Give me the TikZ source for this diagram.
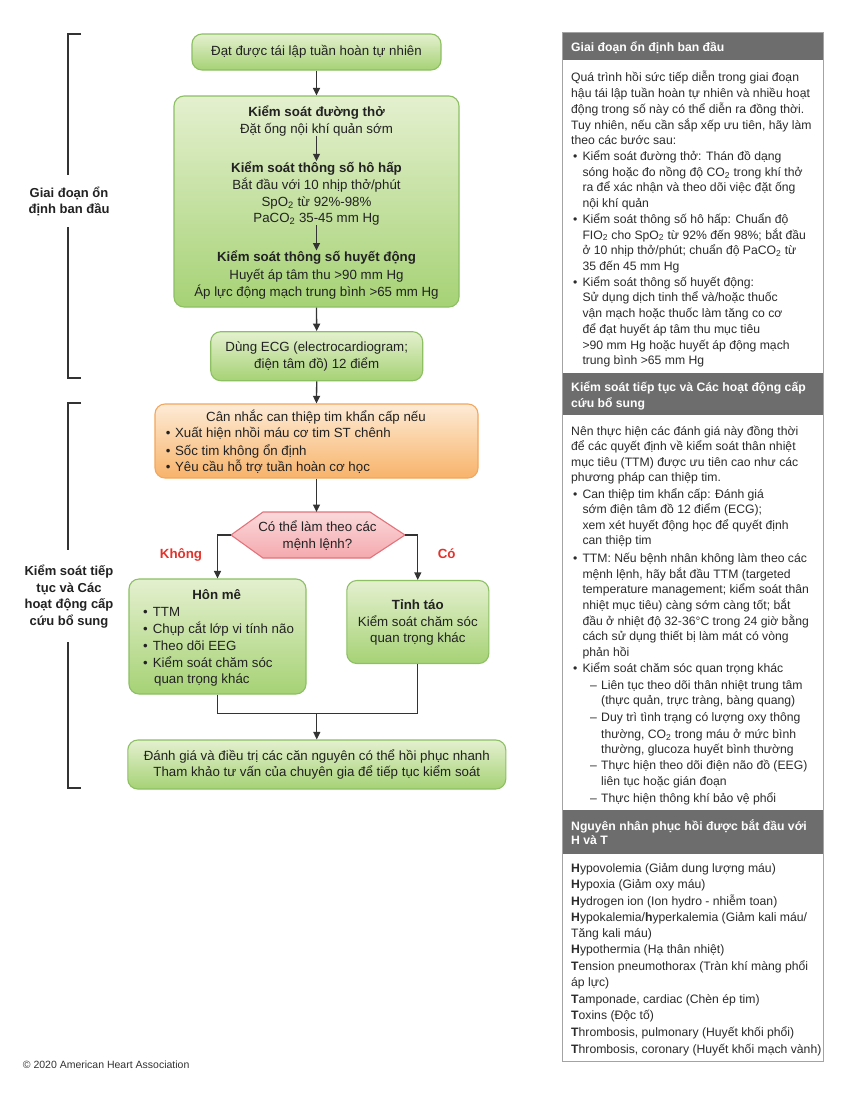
\documentclass[tikz,border=0pt]{standalone}
\usepackage{fontspec}
\setmainfont{Liberation Sans}
\usetikzlibrary{arrows.meta}
\definecolor{gline}{HTML}{8CC063}
\definecolor{gtop}{HTML}{E4F0CF}
\definecolor{gbot}{HTML}{A6D275}
\definecolor{otop}{HTML}{FDEBD6}
\definecolor{obot}{HTML}{F8B36A}
\definecolor{oline}{HTML}{F3A75C}
\definecolor{ptop}{HTML}{FBD9DB}
\definecolor{pbot}{HTML}{F4A9AE}
\definecolor{pline}{HTML}{E4727A}
\definecolor{redtxt}{HTML}{E4322B}
\definecolor{hdr}{HTML}{6D6D6D}
\definecolor{frm}{HTML}{A3A3A3}
\definecolor{txt}{HTML}{222222}
\definecolor{ink}{HTML}{333333}
\definecolor{rtxt}{HTML}{2B2B2B}
\newcommand{\fcfont}{\fontsize{13.3}{16.8}\selectfont}
\newcommand{\rpfont}{\fontsize{12.2}{15.7}\selectfont}
\newcommand{\rbul}{\makebox[11.3pt][l]{\hspace{2pt}•}}
\newcommand{\rind}{\hspace*{11.3pt}}
\newcommand{\rdsh}{\hspace*{19pt}\makebox[11pt][l]{–}}
\newcommand{\rdin}{\hspace*{30pt}}
\begin{document}
\begin{tikzpicture}[x=1pt,y=-1pt,
  gbox/.style={draw=gline, line width=1.1pt, rounded corners=10pt, top color=gtop, bottom color=gbot, text=txt, font=\fcfont, align=center, inner sep=0pt},
  obox/.style={gbox, draw=oline, top color=otop, bottom color=obot},
  ftxt/.style={text=txt, font=\fcfont, inner sep=0pt, anchor=base},
  fbtxt/.style={ftxt, font=\bfseries\fcfont},
  fltxt/.style={ftxt, anchor=base west},
  arr/.style={draw=ink, line width=1.3pt, -{Triangle[length=7.5pt,width=7pt]}},
  ln/.style={draw=ink, line width=1.3pt},
  brk/.style={draw=ink, line width=1.4pt},
  side/.style={text=txt, font=\bfseries\fontsize{13}{16.7}\selectfont, align=center, inner sep=0pt},
  rtx/.style={text=rtxt, font=\rpfont, inner sep=0pt, anchor=base west},
  htx/.style={text=white, font=\bfseries\rpfont, inner sep=0pt, anchor=base west},
]
\useasboundingbox (0,0) rectangle (847,1093);
\fill[white] (0,0) rectangle (847,1093);

% ---------- left brackets ----------
\node[side] (lab1) at (69,201.5) {Giai đoạn ổn\\định ban đầu};
\node[side] (lab2) at (69,596.7) {Kiểm soát tiếp\\tục và Các\\hoạt động cấp\\cứu bổ sung};
\draw[brk] (81,34) -- (68,34) -- (68,175);
\draw[brk] (68,227) -- (68,378) -- (81,378);
\draw[brk] (81,403) -- (68,403) -- (68,550);
\draw[brk] (68,642) -- (68,788) -- (81,788);

% ---------- flowchart ----------
\node[gbox, minimum width=249pt, minimum height=36pt] (rosc) at (316.5,52) {Đạt được tái lập tuần hoàn tự nhiên};

\node[gbox, minimum width=285pt, minimum height=211pt] (main) at (316.5,201.5) {};
\node[fbtxt] (m1) at (316.5,116.2) {Kiểm soát đường thở};
\node[ftxt] (m2) at (316.5,133.5) {Đặt ống nội khí quản sớm};
\node[fbtxt] (m3) at (316.5,172.2) {Kiểm soát thông số hô hấp};
\node[ftxt] (m4) at (316.5,189.5) {Bắt đầu với 10 nhịp thở/phút};
\node[ftxt] (m5) at (316.5,206.2) {SpO\textsubscript{2} từ 92\%-98\%};
\node[ftxt] (m6) at (316.5,222.5) {PaCO\textsubscript{2} 35-45 mm Hg};
\node[fbtxt] (m7) at (316.5,261.5) {Kiểm soát thông số huyết động};
\node[ftxt] (m8) at (316.5,279.5) {Huyết áp tâm thu >90 mm Hg};
\node[ftxt] (m9) at (316.5,296.2) {Áp lực động mạch trung bình >65 mm Hg};
\draw[arr] (m2.south) -- (m3.north);
\draw[arr] (m6.south) -- (m7.north);

\node[gbox, minimum width=212pt, minimum height=49pt] (ecg) at (316.7,356.2) {Dùng ECG (electrocardiogram;\\điện tâm đồ) 12 điểm};

\node[obox, minimum width=323pt, minimum height=74pt] (cath) at (316.5,441) {};
\node[ftxt] (o0) at (316,421.2) {Cân nhắc can thiệp tim khẩn cấp nếu};
\node[fltxt] (o1) at (165.7,437.5) {•\hspace{4.5pt}Xuất hiện nhồi máu cơ tim ST chênh};
\node[fltxt] (o2) at (165.7,455.2) {•\hspace{4.5pt}Sốc tim không ổn định};
\node[fltxt] (o3) at (165.7,471.5) {•\hspace{4.5pt}Yêu cầu hỗ trợ tuần hoàn cơ học};

% decision hexagon
\coordinate (qL) at (231,535);
\coordinate (qR) at (405,535);
\coordinate (qT) at (316.5,512);
\draw[draw=pline, line width=1.1pt, top color=ptop, bottom color=pbot]
  (qL) -- (263,512) -- (370,512) -- (qR) -- (370,558) -- (263,558) -- cycle;
\node[ftxt] (q1) at (317.5,531.2) {Có thể làm theo các};
\node[ftxt] (q2) at (317.5,548.5) {mệnh lệnh?};

\node[text=redtxt, font=\bfseries\fcfont, inner sep=0pt, anchor=base] (no) at (181,558.5) {Không};
\node[text=redtxt, font=\bfseries\fcfont, inner sep=0pt, anchor=base] (yes) at (446.7,558.5) {Có};

\node[gbox, minimum width=177pt, minimum height=115pt] (coma) at (217.5,636.5) {};
\node[fbtxt] (c0) at (216.7,599.5) {Hôn mê};
\node[fltxt] (c1) at (143,616.2) {•\hspace{5pt}TTM};
\node[fltxt] (c2) at (143,633.5) {•\hspace{5pt}Chụp cắt lớp vi tính não};
\node[fltxt] (c3) at (143,650.2) {•\hspace{5pt}Theo dõi EEG};
\node[fltxt] (c4) at (143,667.2) {•\hspace{5pt}Kiểm soát chăm sóc};
\node[fltxt] (c5) at (154,683.8) {quan trọng khác};

\node[gbox, minimum width=142pt, minimum height=83pt] (awake) at (417.8,622) {};
\node[fbtxt] (a0) at (417.8,609.5) {Tỉnh táo};
\node[ftxt] (a1) at (417.8,626.2) {Kiểm soát chăm sóc};
\node[ftxt] (a2) at (417.8,642.8) {quan trọng khác};

\node[gbox, minimum width=378pt, minimum height=49pt] (eval) at (316.8,764.5) {Đánh giá và điều trị các căn nguyên có thể hồi phục nhanh\\Tham khảo tư vấn của chuyên gia để tiếp tục kiểm soát};

\coordinate (merge) at (316.8,713.3);
\draw[arr] (rosc.south) -- (main.north);
\draw[arr] (main.south) -- (ecg.north);
\draw[arr] (ecg.south) -- (cath.north);
\draw[arr] (cath.south) -- (qT);
\draw[arr] (qL) -| (coma.north);
\draw[arr] (qR) -| (awake.north);
\draw[ln] (coma.south) -- (coma.south |- merge) -- (awake.south |- merge) -- (awake.south);
\draw[arr] (merge) -- (eval.north);

\node[text=ink, font=\fontsize{10.5}{12}\selectfont, inner sep=0pt, anchor=base west] (copy) at (22.7,1068) {© 2020 American Heart Association};

% ---------- right panel ----------
\fill[hdr] (562.5,32.5) rectangle (823.5,59.5);
\fill[hdr] (562.5,372.5) rectangle (823.5,415);
\fill[hdr] (562.5,810) rectangle (823.5,853.5);
\draw[frm, line width=1pt] (562.5,32.5) rectangle (823.5,1061);

\node[htx] (h1) at (571,51) {Giai đoạn ổn định ban đầu};
\node[htx] (h2a) at (571,391.5) {Kiểm soát tiếp tục và Các hoạt động cấp};
\node[htx] (h2b) at (571,407.5) {cứu bổ sung};
\node[htx] (h3a) at (571,830.2) {Nguyên nhân phục hồi được bắt đầu với};
\node[htx] (h3b) at (571,844.9) {H và T};

\foreach \t [count=\i from 0] in {
  {Quá trình hồi sức tiếp diễn trong giai đoạn},
  {hậu tái lập tuần hoàn tự nhiên và nhiều hoạt},
  {động trong số này có thể diễn ra đồng thời.},
  {Tuy nhiên, nếu cần sắp xếp ưu tiên, hãy làm},
  {theo các bước sau:},
  {\rbul Kiểm soát đường thở: Thán đồ dạng},
  {\rind sóng hoặc đo nồng độ CO\textsubscript{2} trong khí thở},
  {\rind ra để xác nhận và theo dõi việc đặt ống},
  {\rind nội khí quản},
  {\rbul Kiểm soát thông số hô hấp: Chuẩn độ},
  {\rind FIO\textsubscript{2} cho SpO\textsubscript{2} từ 92\% đến 98\%; bắt đầu},
  {\rind ở 10 nhịp thở/phút; chuẩn độ PaCO\textsubscript{2} từ},
  {\rind 35 đến 45 mm Hg},
  {\rbul Kiểm soát thông số huyết động:},
  {\rind Sử dụng dịch tinh thể và/hoặc thuốc},
  {\rind vận mạch hoặc thuốc làm tăng co cơ},
  {\rind để đạt huyết áp tâm thu mục tiêu},
  {\rind >90 mm Hg hoặc huyết áp động mạch},
  {\rind trung bình >65 mm Hg}}
  \node[rtx] (s1-\i) at (571,{81.9+\i*15.72}) {\t};

\foreach \y/\t [count=\i] in {
  435.2/{Nên thực hiện các đánh giá này đồng thời},
  450.9/{để các quyết định về kiểm soát thân nhiệt},
  466.5/{mục tiêu (TTM) được ưu tiên cao như các},
  481.9/{phương pháp can thiệp tim.},
  498.2/{\rbul Can thiệp tim khẩn cấp: Đánh giá},
  513.5/{\rind sớm điện tâm đồ 12 điểm (ECG);},
  529.2/{\rind xem xét huyết động học để quyết định},
  544.9/{\rind can thiệp tim},
  562.5/{\rbul TTM: Nếu bệnh nhân không làm theo các},
  578.2/{\rind mệnh lệnh, hãy bắt đầu TTM (targeted},
  593.5/{\rind temperature management; kiểm soát thân},
  609.2/{\rind nhiệt mục tiêu) càng sớm càng tốt; bắt},
  625.2/{\rind đầu ở nhiệt độ 32-36°C trong 24 giờ bằng},
  640.9/{\rind cách sử dụng thiết bị làm mát có vòng},
  656.5/{\rind phản hồi},
  672.5/{\rbul Kiểm soát chăm sóc quan trọng khác},
  689.2/{\rdsh Liên tục theo dõi thân nhiệt trung tâm},
  704.9/{\rdin (thực quản, trực tràng, bàng quang)},
  721.9/{\rdsh Duy trì tình trạng có lượng oxy thông},
  738.2/{\rdin thường, CO\textsubscript{2} trong máu ở mức bình},
  753.5/{\rdin thường, glucoza huyết bình thường},
  769.9/{\rdsh Thực hiện theo dõi điện não đồ (EEG)},
  785.9/{\rdin liên tục hoặc gián đoạn},
  802.5/{\rdsh Thực hiện thông khí bảo vệ phổi}}
  \node[rtx] (s2-\i) at (571,\y) {\t};

\foreach \y/\t [count=\i] in {
  872.5/{\textbf{H}ypovolemia (Giảm dung lượng máu)},
  888.5/{\textbf{H}ypoxia (Giảm oxy máu)},
  905.9/{\textbf{H}ydrogen ion (Ion hydro - nhiễm toan)},
  921.9/{\textbf{H}ypokalemia/\textbf{h}yperkalemia (Giảm kali máu/},
  937.5/{Tăng kali máu)},
  953.5/{\textbf{H}ypothermia (Hạ thân nhiệt)},
  970.2/{\textbf{T}ension pneumothorax (Tràn khí màng phổi},
  986.5/{áp lực)},
  1003.5/{\textbf{T}amponade, cardiac (Chèn ép tim)},
  1019.9/{\textbf{T}oxins (Độc tố)},
  1036.5/{\textbf{T}hrombosis, pulmonary (Huyết khối phổi)},
  1053.2/{\textbf{T}hrombosis, coronary (Huyết khối mạch vành)}}
  \node[rtx] (s3-\i) at (571,\y) {\t};
\end{tikzpicture}
\end{document}
